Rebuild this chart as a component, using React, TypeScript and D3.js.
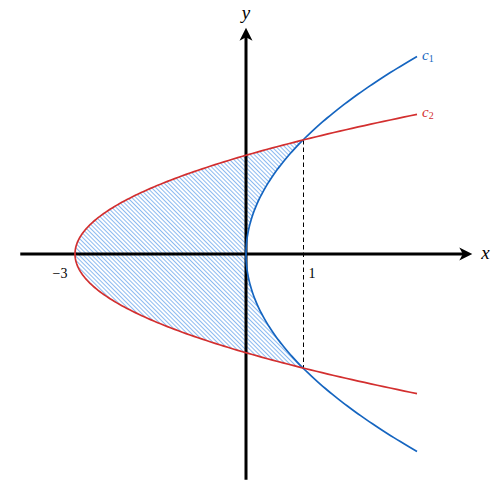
import { useEffect, useRef } from 'react';
import * as d3 from 'd3';

// curves of the form x = a*y^2 + b, drawn while x <= xEnd
const curveNames = ['c1', 'c2'];
const curveA = [0.25, 1];
const curveB = [0, -3];
const curveXEnd = [3, 3];
const curveColors = ['#1565c0', '#d32f2f'];

// shaded region between c2 (left) and c1 (right)
const regionY = [-2, 2];
const tickValues = [-3, 1];
const tickLabels = ['\u22123', '1'];

const W = 493;
const H = 488;
const FONT = '"Liberation Serif", "Times New Roman", serif';

export default function App() {
  const ref = useRef<SVGSVGElement>(null);

  useEffect(() => {
    const svg = d3.select(ref.current);
    svg.selectAll('*').remove();

    const x = d3.scaleLinear().domain([-4, 4]).range([18, 474]);
    const y = d3.scaleLinear().domain([-4, 4]).range([482, 26]);

    const defs = svg.append('defs');
    const pat = defs
      .append('pattern')
      .attr('id', 'hatch')
      .attr('patternUnits', 'userSpaceOnUse')
      .attr('width', 6)
      .attr('height', 3)
      .attr('patternTransform', 'rotate(45)');
    pat
      .append('line')
      .attr('x1', 0)
      .attr('x2', 6)
      .attr('y1', 1.5)
      .attr('y2', 1.5)
      .attr('stroke', '#6fa8ec')
      .attr('stroke-width', 0.8);

    const xOf = (i: number, yy: number) => curveA[i] * yy * yy + curveB[i];
    const line = d3
      .line<[number, number]>()
      .x((d) => x(d[0]))
      .y((d) => y(d[1]));

    // region polygon
    const n = 120;
    const left = d3.range(n + 1).map((k) => {
      const yy = regionY[0] + ((regionY[1] - regionY[0]) * k) / n;
      return [xOf(1, yy), yy] as [number, number];
    });
    const right = d3.range(n + 1).map((k) => {
      const yy = regionY[1] - ((regionY[1] - regionY[0]) * k) / n;
      return [xOf(0, yy), yy] as [number, number];
    });
    svg
      .append('path')
      .attr('d', line(left.concat(right)) + 'Z')
      .attr('fill', 'url(#hatch)')
      .attr('stroke', 'none');

    // axes
    const axisG = svg.append('g');
    axisG
      .append('line')
      .attr('x1', x(-3.96))
      .attr('x2', x(3.82))
      .attr('y1', y(0))
      .attr('y2', y(0))
      .attr('stroke', '#000')
      .attr('stroke-width', 3);
    axisG
      .append('line')
      .attr('x1', x(0))
      .attr('x2', x(0))
      .attr('y1', y(-3.96))
      .attr('y2', y(3.82))
      .attr('stroke', '#000')
      .attr('stroke-width', 3);
    const arrow = 'M0,0 L-13,-6.5 L-9.5,0 L-13,6.5 Z';
    axisG
      .append('path')
      .attr('d', arrow)
      .attr('transform', `translate(${x(3.97)},${y(0)})`)
      .attr('fill', '#000');
    axisG
      .append('path')
      .attr('d', arrow)
      .attr('transform', `translate(${x(0)},${y(3.97)}) rotate(-90)`)
      .attr('fill', '#000');

    // dashed line at intersection
    svg
      .append('line')
      .attr('x1', x(1) + 0.5)
      .attr('x2', x(1) + 0.5)
      .attr('y1', y(regionY[1]))
      .attr('y2', y(regionY[0]))
      .attr('stroke', '#000')
      .attr('stroke-width', 1)
      .attr('stroke-dasharray', '4.5,3');

    // curves
    curveNames.forEach((name, i) => {
      const yMax = Math.sqrt((curveXEnd[i] - curveB[i]) / curveA[i]);
      const pts = d3.range(201).map((k) => {
        const yy = -yMax + (2 * yMax * k) / 200;
        return [xOf(i, yy), yy] as [number, number];
      });
      svg
        .append('path')
        .attr('d', line(pts))
        .attr('fill', 'none')
        .attr('stroke', curveColors[i])
        .attr('stroke-width', 1.7);
      const t = svg
        .append('text')
        .attr('x', x(curveXEnd[i]) + 5)
        .attr('y', y(yMax) + 3)
        .attr('fill', curveColors[i])
        .attr('font-family', FONT)
        .attr('font-size', 15);
      t.append('tspan').attr('font-style', 'italic').text(name[0]);
      t.append('tspan').attr('font-size', 10).attr('dy', 2).text(name.slice(1));
    });

    // tick labels
    tickValues.forEach((v, i) => {
      svg
        .append('text')
        .attr('x', x(v) + (v < 0 ? -15 : 9))
        .attr('y', y(0) + 24)
        .attr('text-anchor', 'middle')
        .attr('font-family', FONT)
        .attr('font-size', 14)
        .text(tickLabels[i]);
    });

    // axis labels
    svg
      .append('text')
      .attr('x', x(4.2))
      .attr('y', y(0) + 5)
      .attr('text-anchor', 'middle')
      .attr('font-family', FONT)
      .attr('font-style', 'italic')
      .attr('font-size', 19)
      .text('x');
    svg
      .append('text')
      .attr('x', x(0))
      .attr('y', y(4.13))
      .attr('text-anchor', 'middle')
      .attr('font-family', FONT)
      .attr('font-style', 'italic')
      .attr('font-size', 19)
      .text('y');
  }, []);

  return (
    <svg
      ref={ref}
      width={W}
      height={H}
      style={{ position: 'absolute', left: 0, top: 0, background: '#fff' }}
    />
  );
}
